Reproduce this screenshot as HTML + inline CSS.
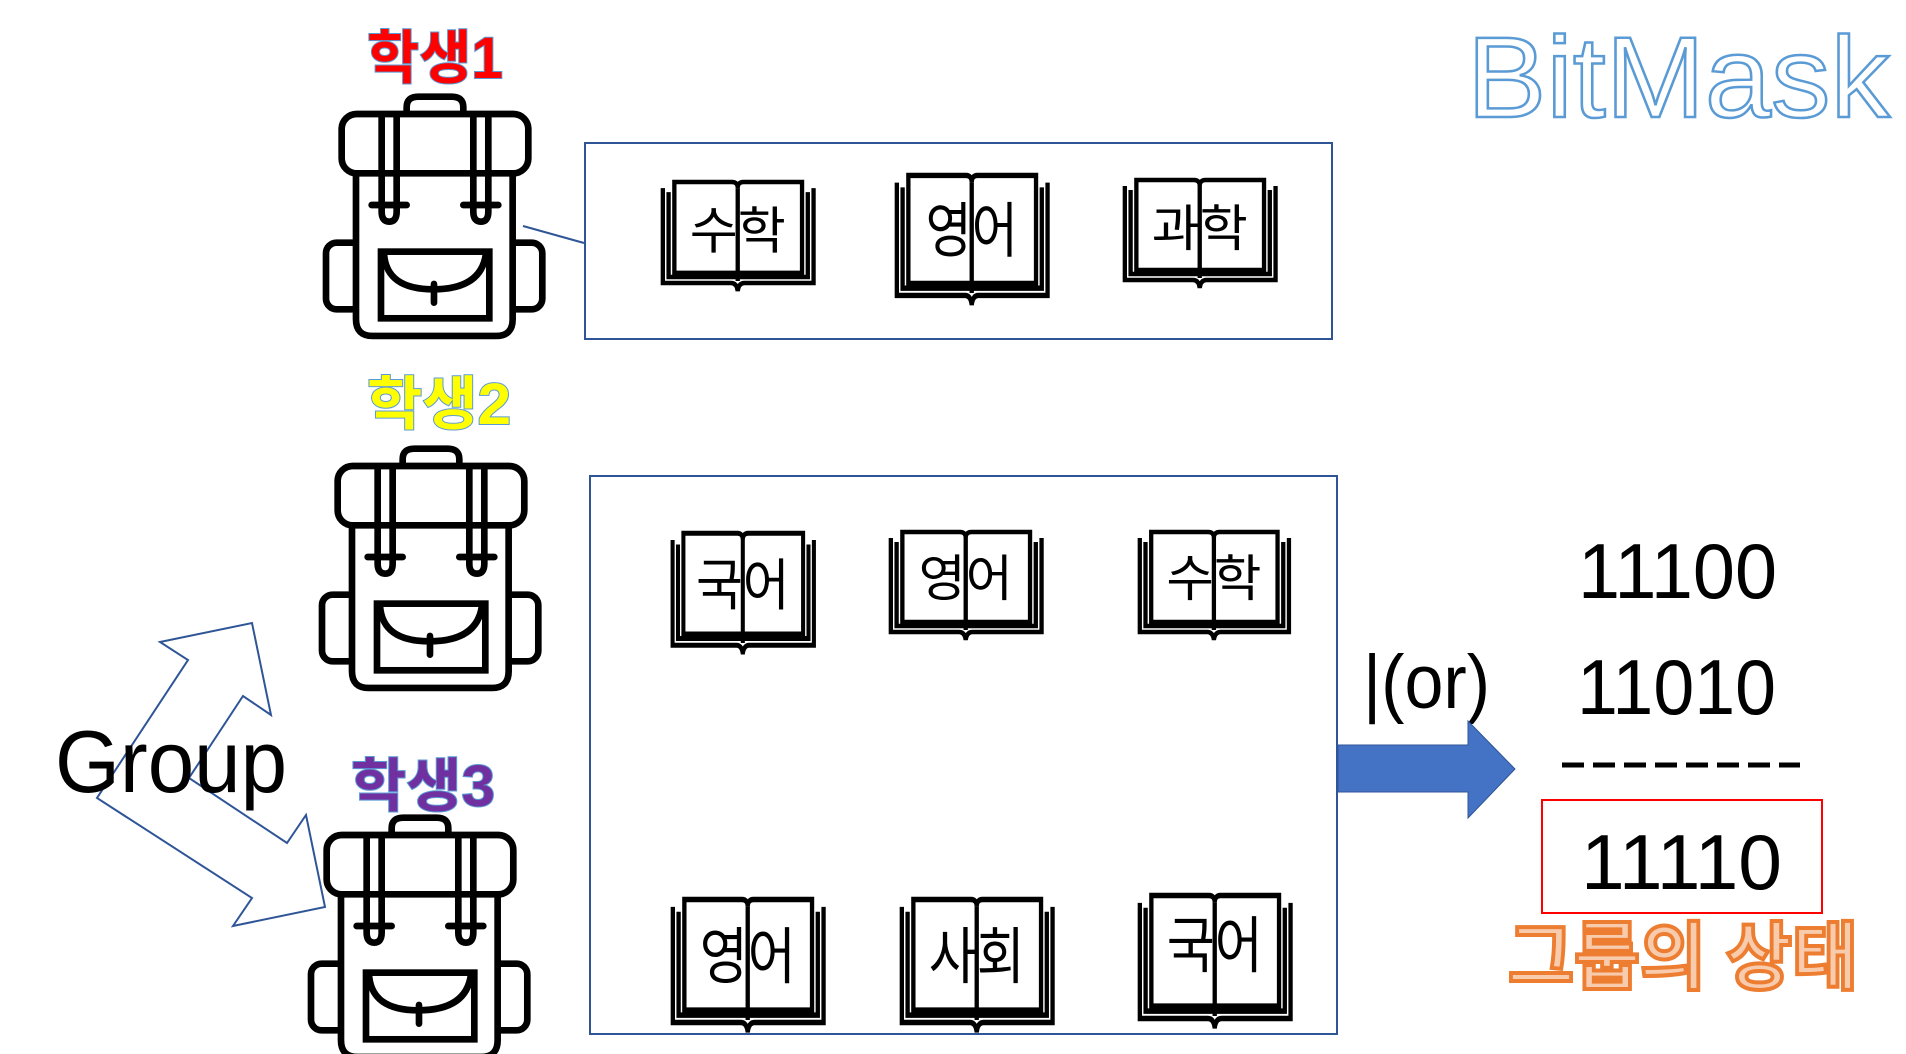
<!DOCTYPE html>
<html><head><meta charset="utf-8">
<style>
html,body{margin:0;padding:0;background:#fff;}
svg{display:block;}
</style></head>
<body>
<svg width="1906" height="1054" viewBox="0 0 1906 1054" xmlns="http://www.w3.org/2000/svg">
<defs>
<g id="bp" fill="#fff" stroke="#000" stroke-width="20" stroke-linejoin="round" stroke-linecap="round">
  <rect x="78" y="488" width="110" height="200" rx="32"/>
  <rect x="617" y="488" width="110" height="200" rx="32"/>
  <path d="M320,100 V82 Q320,50 355,50 H455 Q490,50 490,82 V100"/>
  <path d="M168,270 V718 Q168,768 218,768 H588 Q638,768 638,718 V270 Z"/>
  <rect x="125" y="102" width="560" height="178" rx="45"/>
  <path d="M245,110 V395 Q245,425 268,425 Q290,425 290,395 V110" fill="none"/>
  <path d="M520,110 V395 Q520,425 543,425 Q565,425 565,395 V110" fill="none"/>
  <path d="M215,375 H320 M490,375 H595" fill="none"/>
  <rect x="243" y="515" width="325" height="200" stroke-linejoin="miter"/>
  <path d="M252,520 Q258,628 400,628 Q545,628 558,520" fill="none"/>
  <path d="M402,612 V668" fill="none"/>
</g>
<g id="book" fill="#fff" stroke="#000" stroke-width="4.5" stroke-linejoin="miter">
  <path d="M4,8 V102 H75 Q81,102 82,110 Q83,102 89,102 H161 V8"/>
  <path d="M10,12 V96 H155 V12"/>
  <path d="M16,2 H76 Q82,2 82,8 Q82,2 88,2 H149 V92 H16 Z"/>
  <path d="M82,8 V100" fill="none"/>
</g>
</defs>

<rect x="585" y="143" width="747" height="196" fill="none" stroke="#2f5597" stroke-width="2"/>
<rect x="590" y="476" width="747" height="558" fill="none" stroke="#2f5597" stroke-width="2"/>
<line x1="523" y1="226" x2="584" y2="243" stroke="#2f5597" stroke-width="2"/>

<use href="#bp" transform="translate(300,80) scale(0.3333)"/>
<use href="#bp" transform="translate(296,432) scale(0.3333)"/>
<use href="#bp" transform="translate(285,801) scale(0.3333)"/>

<g font-family="'Liberation Sans','Noto Sans CJK KR',sans-serif" font-size="50" text-anchor="middle">
<g transform="translate(659,180) scale(0.96,1.01)"><use href="#book"/><text x="82" y="68" textLength="100" lengthAdjust="spacingAndGlyphs">수학</text></g>
<g transform="translate(893,173) scale(0.96,1.2)"><use href="#book"/><text x="82" y="66" textLength="96" lengthAdjust="spacingAndGlyphs">영어</text></g>
<g transform="translate(1121,178) scale(0.96,1.0)"><use href="#book"/><text x="82" y="68" textLength="100" lengthAdjust="spacingAndGlyphs">과학</text></g>

<g transform="translate(669,531) scale(0.9,1.12)"><use href="#book"/><text x="82" y="66" textLength="104" lengthAdjust="spacingAndGlyphs">국어</text></g>
<g transform="translate(887,530) scale(0.96,1.0)"><use href="#book"/><text x="82" y="66" textLength="98" lengthAdjust="spacingAndGlyphs">영어</text></g>
<g transform="translate(1136,530) scale(0.95,1.0)"><use href="#book"/><text x="82" y="66" textLength="100" lengthAdjust="spacingAndGlyphs">수학</text></g>

<g transform="translate(669,897) scale(0.96,1.23)"><use href="#book"/><text x="82" y="66" textLength="100" lengthAdjust="spacingAndGlyphs">영어</text></g>
<g transform="translate(898,897) scale(0.96,1.23)"><use href="#book"/><text x="82" y="66" textLength="100" lengthAdjust="spacingAndGlyphs">사회</text></g>
<g transform="translate(1136,893) scale(0.96,1.23)"><use href="#book"/><text x="82" y="60" textLength="100" lengthAdjust="spacingAndGlyphs">국어</text></g>
</g>

<g font-family="'Liberation Sans','Noto Sans CJK KR',sans-serif" font-weight="bold" font-size="58" stroke="#5b9bd5" stroke-width="2" paint-order="stroke">
<text x="367" y="78" fill="#ff0000" textLength="136" lengthAdjust="spacingAndGlyphs">학생1</text>
<text x="367" y="424" fill="#ffff00" textLength="144" lengthAdjust="spacingAndGlyphs">학생2</text>
<text x="351" y="806" fill="#7030a0" textLength="144" lengthAdjust="spacingAndGlyphs">학생3</text>
</g>

<polygon points="160,642 252,623 271,715 243,696 189,778 287,843 306,815 325,907 233,926 252,898 97,798 188,660" fill="none" stroke="#2f5597" stroke-width="2"/>
<text x="55" y="792" font-family="'Liberation Sans',sans-serif" font-size="88" fill="#000" textLength="232" lengthAdjust="spacingAndGlyphs">Group</text>

<text x="1467" y="117" font-family="'Liberation Sans',sans-serif" font-size="115" fill="#fff" stroke="#5b9bd5" stroke-width="2.5" textLength="423" lengthAdjust="spacingAndGlyphs">BitMask</text>

<g font-family="'Liberation Sans',sans-serif" font-size="78" fill="#000">
<text x="1578" y="598" textLength="199" lengthAdjust="spacingAndGlyphs">11100</text>
<text x="1577" y="714" textLength="199" lengthAdjust="spacingAndGlyphs">11010</text>
<text x="1581" y="889" textLength="201" lengthAdjust="spacingAndGlyphs">11110</text>
<text x="1363" y="708" font-size="76" textLength="127" lengthAdjust="spacingAndGlyphs">|(or)</text>
</g>
<line x1="1562" y1="765" x2="1800" y2="765" stroke="#000" stroke-width="5" stroke-dasharray="22,9"/>
<rect x="1542" y="800" width="280" height="113" fill="none" stroke="#ff0000" stroke-width="2"/>

<polygon points="1338,745 1468,745 1468,721 1515,769 1468,818 1468,792 1338,792" fill="#4472c4" stroke="#2f5597" stroke-width="1"/>

<text x="1508" y="983" font-family="'Liberation Sans','Noto Sans CJK KR',sans-serif" font-weight="bold" font-size="74" fill="#f8cbad" stroke="#ed7d31" stroke-width="4" paint-order="fill" textLength="350" lengthAdjust="spacingAndGlyphs">그룹의 상태</text>
</svg>
</body></html>
